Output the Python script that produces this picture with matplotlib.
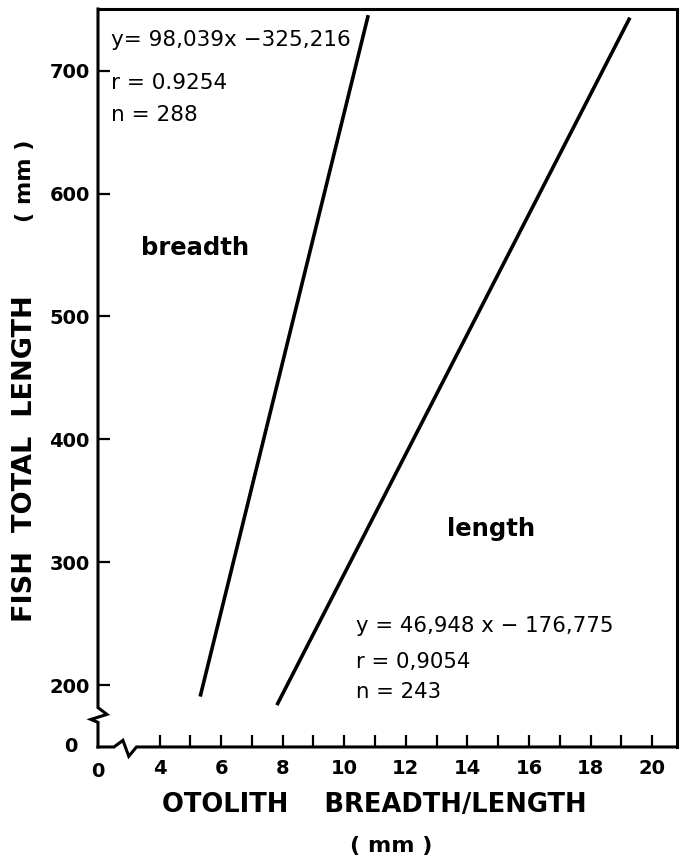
"""
Otolith breadth/length vs fish total length regression lines.

Outputs:
    - out.png
"""

import matplotlib.pyplot as plt

# Regression lines, end points (x in mm, y in mm)
breadth_x = [5.32, 10.78]
breadth_y = [191, 745]
length_x = [7.81, 19.28]
length_y = [184, 743]

breadth_stats = ["y= 98,039x \u2212325,216", "r = 0.9254", "n = 288"]
length_stats = ["y = 46,948 x \u2212 176,775", "r = 0,9054", "n = 243"]

x_major = [4, 6, 8, 10, 12, 14, 16, 18, 20]
x_minor = [5, 7, 9, 11, 13, 15, 17, 19]
y_major = [200, 300, 400, 500, 600, 700]


def main():
    fig = plt.figure(figsize=(6.8, 8.58), dpi=100)
    ax = fig.add_axes([0.1441, 0.1294, 0.9956 - 0.1441, 0.9895 - 0.1294])
    ax.set_xlim(2, 20.81)
    ax.set_ylim(150, 750)

    # the two fitted lines
    ax.plot(breadth_x, breadth_y, color='black', linewidth=2.6, solid_capstyle='butt')
    ax.plot(length_x, length_y, color='black', linewidth=2.6, solid_capstyle='butt')

    # frame: top/right normal, left/bottom drawn with axis breaks
    for side in ('top', 'right'):
        ax.spines[side].set_linewidth(2.2)
    ax.spines['left'].set_visible(False)
    ax.spines['bottom'].set_visible(False)

    lw = 2.2
    ax.plot([2, 2, 2.29, 1.77, 2, 2], [750, 182, 176.5, 172.4, 170, 150],
            color='black', linewidth=lw, clip_on=False, solid_joinstyle='miter')
    ax.plot([2, 2.52, 2.81, 3.0, 3.25, 20.81], [150, 150, 155.4, 142.4, 150, 150],
            color='black', linewidth=lw, clip_on=False, solid_joinstyle='miter')

    # ticks
    ax.set_xticks(x_major)
    ax.set_xticks(x_minor, minor=True)
    ax.set_yticks(y_major)
    ax.tick_params(axis='both', which='both', direction='in', length=8.5, width=1.6,
                   top=False, right=False)
    ax.tick_params(axis='x', which='major', pad=9, labelsize=14)
    ax.tick_params(axis='y', which='major', pad=6, labelsize=14)
    for lab in ax.get_xticklabels() + ax.get_yticklabels():
        lab.set_fontweight('bold')

    # the "0" labels at the broken origin
    ax.annotate('0', xy=(2, 150), xycoords='data', xytext=(0, -11),
                textcoords='offset points', ha='center', va='top',
                fontsize=14, fontweight='bold')
    ax.annotate('0', xy=(2, 150), xycoords='data', xytext=(-15, 0),
                textcoords='offset points', ha='right', va='center',
                fontsize=14, fontweight='bold')

    # equations
    for txt, y in zip(breadth_stats, [725, 689.5, 663.5]):
        ax.text(2.42, y, txt, ha='left', va='center', fontsize=15.5)
    for txt, y in zip(length_stats, [248.7, 218.7, 195]):
        ax.text(10.39, y, txt, ha='left', va='center', fontsize=15.3)

    ax.text(3.4, 556, 'breadth', ha='left', va='center', fontsize=17.5, fontweight='bold')
    ax.text(13.35, 327.4, 'length', ha='left', va='center', fontsize=17.5, fontweight='bold')

    # axis titles
    fig.text(0.037, 0.466, 'FISH  TOTAL  LENGTH', rotation=90, ha='center', va='center',
             fontsize=19.5, fontweight='bold')
    fig.text(0.037, 0.789, '( mm )', rotation=90, ha='center', va='center',
             fontsize=16, fontweight='bold')
    fig.text(0.551, 0.0618, 'OTOLITH    BREADTH/LENGTH', ha='center',
             va='center', fontsize=18.5, fontweight='bold')
    fig.text(0.575, 0.014, '( mm )', ha='center', va='center',
             fontsize=16, fontweight='bold')

    fig.savefig('out.png', dpi=100)
    plt.close(fig)


if __name__ == "__main__":
    main()
